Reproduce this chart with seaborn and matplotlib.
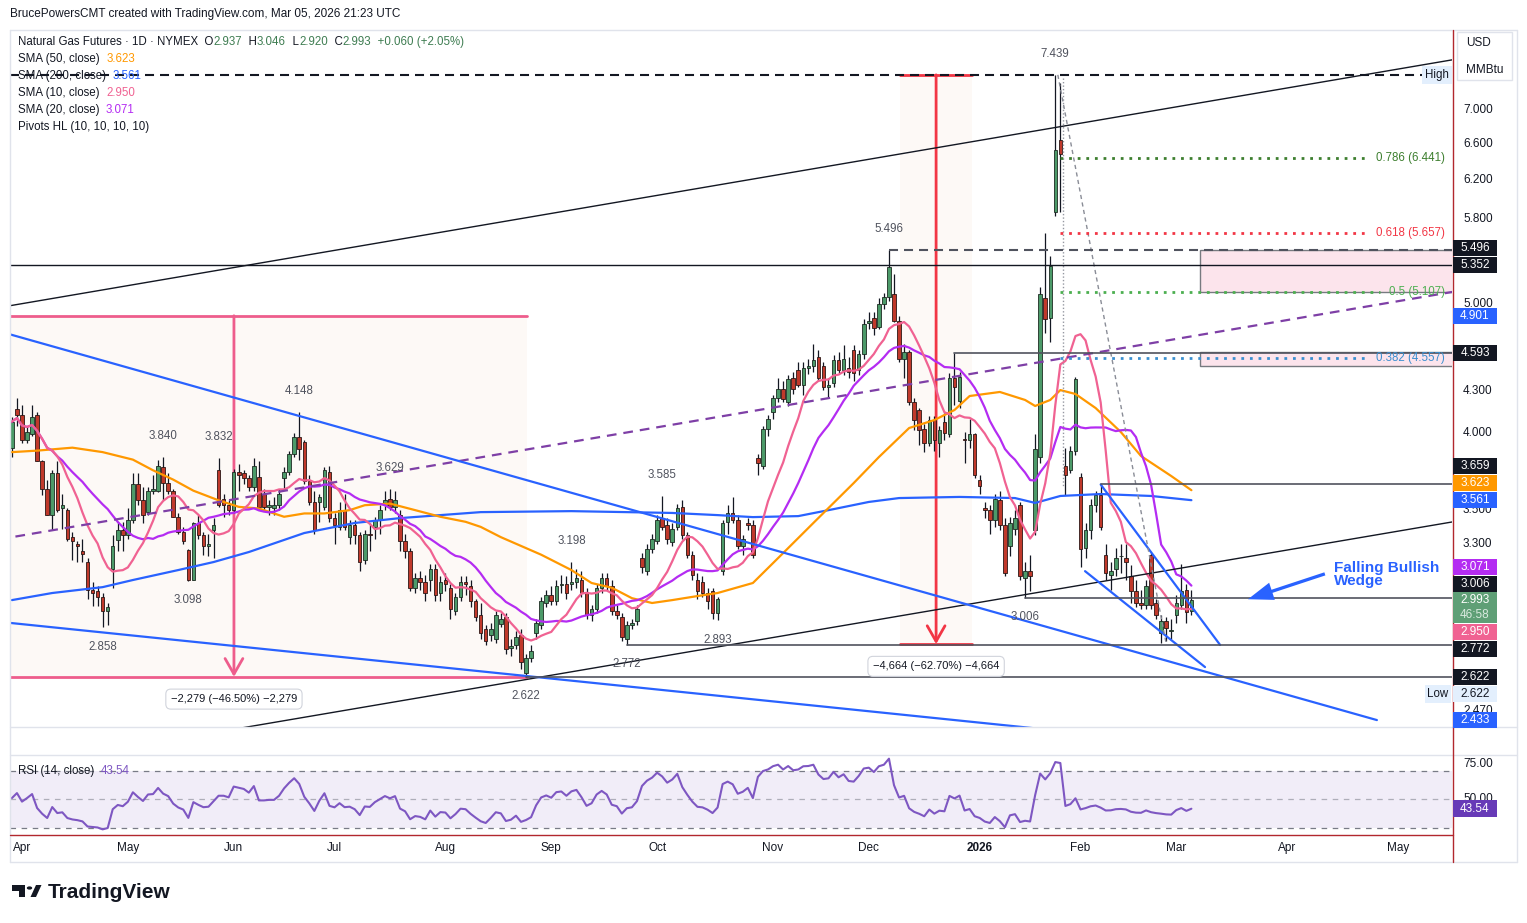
import numpy as np
import pandas as pd
import matplotlib
matplotlib.use("Agg")
import matplotlib.pyplot as plt
from matplotlib.lines import Line2D
from matplotlib.patches import Rectangle, Polygon, Circle, FancyArrowPatch
from matplotlib.transforms import blended_transform_factory
import seaborn as sns

# daily candles of Natural Gas futures (NG1!), 28 Mar 2025 .. 5 Mar 2026
opens = [
    3.90, 4.17, 4.13, 3.95, 3.99, 4.13, 3.81, 3.63, 3.47, 3.73,
    3.51, 3.50, 3.34, 3.30, 3.26, 3.20, 3.05, 3.045, 3.01, 2.94,
    3.16, 3.325, 3.38, 3.35, 3.44, 3.66, 3.56, 3.49, 3.62, 3.62,
    3.77, 3.67, 3.62, 3.46, 3.37, 3.265, 3.10, 3.42, 3.35, 3.29,
    3.38, 3.75, 3.57, 3.53, 3.50, 3.74, 3.73, 3.70, 3.64, 3.71,
    3.60, 3.52, 3.51, 3.53, 3.70, 3.74, 3.86, 3.97, 3.94, 3.68,
    3.55, 3.55, 3.52, 3.74, 3.45, 3.40, 3.50, 3.34, 3.41, 3.35,
    3.21, 3.36, 3.40, 3.44, 3.53, 3.57, 3.52, 3.47, 3.32, 3.26,
    3.06, 3.11, 3.09, 3.10, 3.16, 3.03, 3.10, 3.06, 2.94, 3.01,
    3.09, 3.07, 2.99, 2.92, 2.85, 2.82, 2.80, 2.875, 2.91, 2.755,
    2.77, 2.82, 2.64, 2.71, 2.83, 2.87, 2.98, 3.02, 2.99, 3.075,
    3.08, 3.08, 3.09, 3.10, 3.03, 2.92, 2.95, 3.06, 3.11, 3.07,
    2.94, 2.91, 2.80, 2.87, 2.89, 3.22, 3.15, 3.27, 3.32, 3.45,
    3.41, 3.31, 3.40, 3.52, 3.35, 3.24, 3.10, 3.09, 3.03, 3.04,
    2.93, 3.15, 3.43, 3.48, 3.44, 3.29, 3.42, 3.41, 3.83, 3.78,
    4.03, 4.15, 4.25, 4.32, 4.22, 4.40, 4.46, 4.35, 4.48, 4.49,
    4.56, 4.49, 4.33, 4.36, 4.54, 4.46, 4.48, 4.62, 4.46, 4.59,
    4.84, 4.88, 4.81, 5.00, 5.06, 5.09, 4.86, 4.55, 4.60, 4.22,
    4.16, 4.03, 3.93, 4.09, 3.93, 4.08, 3.99, 4.40, 4.23, 3.96,
    3.95, 3.99, 3.69, 3.51, 3.50, 3.44, 3.56, 3.41, 3.29, 3.39,
    3.53, 3.11, 3.15, 3.38, 3.84, 5.05, 4.88, 5.87, 6.64, 3.78,
    3.75, 3.88, 3.71, 3.28, 3.38, 3.53, 3.59, 3.24, 3.13, 3.16,
    3.23, 3.22, 3.12, 3.04, 2.98, 2.97, 3.24, 2.98, 2.83, 2.89,
    2.84, 2.92, 2.97, 3.05, 2.937,
]
highs = [
    4.11, 4.25, 4.20, 4.05, 4.20, 4.15, 3.82, 3.69, 3.75, 3.81,
    3.60, 3.51, 3.37, 3.32, 3.33, 3.22, 3.09, 3.07, 3.03, 2.98,
    3.35, 3.43, 3.43, 3.51, 3.73, 3.73, 3.64, 3.64, 3.72, 3.82,
    3.84, 3.73, 3.63, 3.48, 3.40, 3.27, 3.43, 3.47, 3.37, 3.36,
    3.45, 3.832, 3.60, 3.56, 3.76, 3.79, 3.75, 3.72, 3.83, 3.81,
    3.63, 3.56, 3.58, 3.63, 3.77, 3.88, 4.00, 4.148, 3.95, 3.72,
    3.62, 3.60, 3.77, 3.78, 3.48, 3.55, 3.60, 3.44, 3.44, 3.37,
    3.38, 3.42, 3.46, 3.53, 3.62, 3.629, 3.62, 3.50, 3.36, 3.28,
    3.14, 3.15, 3.13, 3.19, 3.19, 3.12, 3.14, 3.08, 3.03, 3.12,
    3.12, 3.10, 3.00, 2.98, 2.87, 2.88, 2.94, 2.93, 2.93, 2.80,
    2.84, 2.85, 2.73, 2.77, 2.90, 3.01, 3.05, 3.07, 3.10, 3.13,
    3.12, 3.198, 3.16, 3.15, 3.06, 2.97, 3.08, 3.14, 3.14, 3.10,
    2.97, 2.93, 2.89, 2.90, 2.97, 3.25, 3.30, 3.36, 3.47, 3.585,
    3.45, 3.42, 3.54, 3.56, 3.37, 3.26, 3.14, 3.12, 3.06, 3.06,
    3.01, 3.44, 3.53, 3.58, 3.47, 3.35, 3.45, 3.44, 3.86, 4.05,
    4.13, 4.27, 4.40, 4.38, 4.42, 4.45, 4.52, 4.52, 4.55, 4.67,
    4.62, 4.52, 4.40, 4.58, 4.60, 4.66, 4.56, 4.66, 4.62, 4.87,
    4.93, 4.93, 5.05, 5.10, 5.496, 5.27, 4.90, 4.67, 4.62, 4.25,
    4.18, 4.06, 4.12, 4.12, 4.05, 4.14, 4.44, 4.593, 4.45, 4.01,
    4.10, 4.00, 3.72, 3.55, 3.53, 3.60, 3.62, 3.45, 3.46, 3.50,
    3.55, 3.20, 3.24, 3.99, 5.15, 5.657, 5.44, 7.439, 7.33, 3.90,
    3.91, 4.41, 3.73, 3.42, 3.57, 3.62, 3.659, 3.30, 3.20, 3.28,
    3.30, 3.30, 3.18, 3.10, 3.05, 3.10, 3.25, 3.00, 2.92, 2.91,
    2.90, 3.02, 3.19, 3.08, 3.046,
]
lows = [
    3.84, 4.05, 3.93, 3.93, 3.98, 3.81, 3.59, 3.47, 3.38, 3.49,
    3.39, 3.32, 3.21, 3.20, 3.20, 3.00, 2.966, 2.965, 2.858, 2.87,
    3.06, 3.26, 3.26, 3.33, 3.42, 3.53, 3.42, 3.47, 3.60, 3.61,
    3.56, 3.60, 3.46, 3.36, 3.30, 3.098, 3.10, 3.33, 3.24, 3.23,
    3.22, 3.52, 3.46, 3.47, 3.48, 3.62, 3.66, 3.62, 3.62, 3.50,
    3.50, 3.47, 3.47, 3.50, 3.63, 3.72, 3.84, 3.82, 3.66, 3.53,
    3.36, 3.43, 3.50, 3.43, 3.30, 3.38, 3.38, 3.30, 3.30, 3.15,
    3.19, 3.26, 3.33, 3.36, 3.50, 3.50, 3.48, 3.26, 3.22, 3.04,
    3.03, 3.05, 2.99, 3.04, 2.99, 2.99, 3.04, 2.90, 2.92, 2.99,
    3.02, 2.96, 2.89, 2.80, 2.77, 2.79, 2.78, 2.86, 2.73, 2.72,
    2.75, 2.66, 2.622, 2.69, 2.80, 2.85, 2.96, 2.97, 2.97, 3.03,
    3.00, 3.05, 3.06, 3.01, 2.90, 2.89, 2.93, 3.03, 3.04, 2.92,
    2.90, 2.79, 2.772, 2.85, 2.87, 3.14, 3.13, 3.25, 3.30, 3.38,
    3.30, 3.29, 3.38, 3.33, 3.22, 3.10, 3.00, 3.01, 2.95, 2.90,
    2.893, 3.13, 3.36, 3.42, 3.27, 3.24, 3.38, 3.22, 3.72, 3.76,
    3.98, 4.10, 4.22, 4.22, 4.19, 4.28, 4.33, 4.27, 4.43, 4.45,
    4.38, 4.31, 4.26, 4.33, 4.44, 4.42, 4.40, 4.38, 4.42, 4.55,
    4.79, 4.74, 4.79, 4.96, 5.03, 4.85, 4.52, 4.40, 4.20, 4.02,
    3.92, 3.87, 3.91, 3.88, 3.84, 3.95, 3.97, 4.20, 4.18, 3.80,
    3.90, 3.70, 3.60, 3.45, 3.36, 3.40, 3.38, 3.12, 3.23, 3.35,
    3.10, 3.006, 3.04, 3.35, 3.80, 4.76, 4.68, 5.83, 5.87, 3.59,
    3.73, 3.85, 3.17, 3.22, 3.33, 3.49, 3.38, 3.10, 3.05, 3.12,
    3.14, 3.10, 2.98, 2.96, 2.95, 2.95, 2.95, 2.90, 2.78, 2.79,
    2.80, 2.88, 2.95, 2.88, 2.920,
]
closes = [
    4.08, 4.13, 3.95, 4.01, 4.11, 3.81, 3.63, 3.47, 3.73, 3.50,
    3.53, 3.33, 3.32, 3.29, 3.245, 3.05, 3.03, 3.01, 2.94, 2.96,
    3.29, 3.38, 3.35, 3.44, 3.66, 3.56, 3.47, 3.62, 3.63, 3.78,
    3.67, 3.62, 3.46, 3.37, 3.32, 3.10, 3.42, 3.35, 3.29, 3.30,
    3.41, 3.53, 3.53, 3.50, 3.74, 3.72, 3.70, 3.64, 3.78, 3.52,
    3.52, 3.53, 3.53, 3.60, 3.74, 3.86, 3.97, 3.89, 3.68, 3.55,
    3.38, 3.58, 3.75, 3.45, 3.41, 3.50, 3.40, 3.41, 3.35, 3.20,
    3.36, 3.35, 3.44, 3.50, 3.56, 3.52, 3.56, 3.32, 3.26, 3.06,
    3.11, 3.09, 3.03, 3.16, 3.02, 3.09, 3.08, 2.95, 3.01, 3.09,
    3.08, 2.99, 2.91, 2.83, 2.79, 2.85, 2.92, 2.90, 2.75, 2.765,
    2.81, 2.69, 2.71, 2.74, 2.88, 2.99, 3.02, 2.99, 3.07, 3.08,
    3.03, 3.09, 3.11, 3.03, 2.92, 2.95, 3.06, 3.11, 3.07, 2.94,
    2.92, 2.81, 2.87, 2.88, 2.95, 3.17, 3.27, 3.33, 3.44, 3.40,
    3.33, 3.39, 3.51, 3.35, 3.24, 3.13, 3.04, 3.03, 2.99, 2.93,
    3.00, 3.42, 3.48, 3.44, 3.29, 3.33, 3.41, 3.24, 3.80, 4.03,
    4.10, 4.25, 4.32, 4.24, 4.39, 4.32, 4.35, 4.48, 4.49, 4.54,
    4.40, 4.33, 4.35, 4.54, 4.46, 4.55, 4.45, 4.44, 4.59, 4.83,
    4.86, 4.80, 5.00, 5.06, 5.33, 4.86, 4.55, 4.60, 4.22, 4.09,
    4.02, 3.93, 4.09, 3.95, 4.02, 4.00, 4.40, 4.33, 4.41, 3.95,
    3.99, 3.72, 3.65, 3.50, 3.44, 3.57, 3.41, 3.14, 3.42, 3.45,
    3.12, 3.15, 3.12, 3.89, 5.09, 4.87, 5.34, 6.53, 6.49, 3.72,
    3.88, 4.39, 3.27, 3.38, 3.53, 3.59, 3.40, 3.14, 3.15, 3.22,
    3.235, 3.20, 3.04, 2.98, 2.97, 3.07, 2.97, 2.92, 2.89, 2.855,
    2.845, 2.98, 3.04, 2.933, 2.993,
]

# 50 and 200 day SMA (bar number, value)
sma50_bar = [0, 5, 12, 18, 24, 28, 32, 36, 41, 45, 49, 54, 58, 62, 67, 70, 75, 80, 85, 90,
             93, 97, 105, 111, 115, 119, 123, 127, 131, 136, 140, 147, 153, 159, 167, 172,
             178, 183, 187, 190, 196, 201, 203, 206, 208, 211, 215, 220, 224, 230, 234]
sma50_val = [3.87, 3.88, 3.90, 3.87, 3.82, 3.75, 3.69, 3.62, 3.56, 3.52, 3.51, 3.46, 3.48,
             3.48, 3.50, 3.53, 3.54, 3.50, 3.46, 3.43, 3.40, 3.34, 3.24, 3.155, 3.085, 3.06,
             3.005, 2.98, 2.995, 3.016, 3.032, 3.085, 3.249, 3.423, 3.668, 3.837, 4.035,
             4.091, 4.163, 4.265, 4.295, 4.236, 4.192, 4.236, 4.309, 4.28, 4.177, 4.007,
             3.844, 3.713, 3.623]
sma200_bar = [0, 8, 18, 24, 33, 40, 47, 58, 68, 77, 93, 111, 131, 140, 147, 156, 163, 170,
              176, 188, 199, 203, 208, 216, 226, 234]
sma200_val = [2.995, 3.032, 3.063, 3.101, 3.155, 3.199, 3.255, 3.364, 3.423, 3.452, 3.488,
              3.494, 3.483, 3.47, 3.458, 3.464, 3.506, 3.550, 3.574, 3.581, 3.574, 3.544,
              3.587, 3.599, 3.587, 3.561]
# RSI of the first 14 sessions, before its own window is full
rsi_first = [51, 54.5, 48.5, 51, 53.8, 44, 40, 37, 44.7, 40.5, 41, 37, 36, 35.5]

holidays = ["2025-04-18", "2025-05-26", "2025-06-19", "2025-07-04", "2025-09-01",
            "2025-11-27", "2025-12-25", "2026-01-01", "2026-01-19", "2026-02-16"]

# pivots (bar number) labelled on the chart
pivot_high_bars = [30, 41, 57, 75, 111, 129, 174, 207]
pivot_low_bars = [18, 35, 102, 122, 140, 201]

# fibonacci levels
fib_ratio = ["0.786", "0.618", "0.5", "0.382"]
fib_price = [6.441, 5.657, 5.107, 4.557]
fib_color = ["#3d7f2f", "#f23645", "#4caf50", "#3a8fd0"]

# right scale tags
tag_val = [5.496, 5.352, 4.901, 4.593, 3.659, 3.623, 3.561, 3.071, 3.006, 2.993, 2.950,
           2.772, 2.622, 2.622, 2.433]
tag_col = ["#131722", "#131722", "#2962ff", "#131722", "#131722", "#ff9800", "#2962ff",
           "#b42cf2", "#131722", "#5f9f76", "#f06292", "#131722", "#131722", "#e3effd",
           "#2962ff"]
price_ticks = [7.0, 6.6, 6.2, 5.8, 5.0, 4.3, 4.0, 3.5, 3.3, 2.47]

# ---------------------------------------------------------------
sns.set_theme(style="white")
plt.rcParams["font.family"] = ["Liberation Sans", "DejaVu Sans"]
plt.rcParams["lines.scale_dashes"] = False

days = pd.bdate_range("2025-03-28", "2026-03-05")
days = days[~days.isin(pd.to_datetime(holidays))]
df = pd.DataFrame({"date": days, "open": opens, "high": highs, "low": lows, "close": closes})
df["n"] = np.arange(len(df))
df["sma10"] = df["close"].rolling(10, min_periods=1).mean()
df["sma20"] = df["close"].rolling(20, min_periods=1).mean()

# RSI(14), Wilder smoothing, started from the value read at the 14th session
c = df["close"].to_numpy()
d = np.diff(c)
gain, loss = np.clip(d, 0, None), np.clip(-d, 0, None)
rsi = np.full(len(c), np.nan)
rsi[:14] = rsi_first
span = np.abs(d[:13]).mean()
ag, al = span * rsi_first[-1] / 100, span * (1 - rsi_first[-1] / 100)
for k in range(13, len(d)):
    ag = (ag * 13 + gain[k]) / 14
    al = (al * 13 + loss[k]) / 14
    rsi[k + 1] = 100 - 100 / (1 + ag / al)
df["rsi"] = rsi

W, H = 1527, 923
def fx(p): return p / W
def fy(p): return 1 - p / H

fig = plt.figure(figsize=(W / 100, H / 100), dpi=100)
fig.patch.set_facecolor("white")
ax = fig.add_axes([fx(10), fy(727), (1452 - 10) / W, (727 - 30) / H])
ax_r = fig.add_axes([fx(10), fy(835), (1452 - 10) / W, (835 - 755) / H])
XMIN, XMAX = -0.38, 285.7
ax.set_yscale("log")
ax.set_xlim(XMIN, XMAX)
ax.set_ylim(2.404, 8.04)
ax.axis("off")
ax_r.set_xlim(XMIN, XMAX)
ax_r.set_ylim(25.1, 81.2)
ax_r.axis("off")

INK = "#131722"
FS = 8.3

# --- measure boxes (drawn first, under everything) ---
def measure(n0, n1, top, bot, col, text):
    mid = (n0 + n1) / 2
    ax.fill_between([n0, n1], bot, top, color="#f7e6d8", alpha=0.22, lw=0, zorder=1)
    ax.plot([n0, n1], [top, top], color=col, lw=2, zorder=2)
    ax.plot([n0, n1], [bot, bot], color=col, lw=2, zorder=2)
    ax.annotate("", xy=(mid, bot), xytext=(mid, top),
                arrowprops=dict(arrowstyle="->,head_length=0.7,head_width=0.4", color=col,
                                lw=2, shrinkA=0, shrinkB=0, mutation_scale=16), zorder=2)
    ax.annotate(text, xy=(mid, bot), xytext=(0, -16), textcoords="offset points",
                ha="center", va="center", fontsize=8, color=INK, zorder=9,
                bbox=dict(boxstyle="round,pad=0.45", fc="white", ec="#d1d4dc", lw=0.8))

measure(-14.1, 102.2, 4.901, 2.622, "#ee5d8c", "\u22122,279 (\u221246.50%) \u22122,279")
measure(176.2, 190.5, 7.439, 2.775, "#f23645", "\u22124,664 (\u221262.70%) \u22124,664")

# --- pink zones ---
for top, bot in [(5.496, 5.107), (4.60, 4.49)]:
    ax.add_patch(Rectangle((235.8, bot), 60, top - bot, fc="#fce4ec", ec="#777a80", lw=1,
                           zorder=1))

# --- trend lines ---
def line(p0, p1, extend=False, **kw):
    (n0, v0), (n1, v1) = p0, p1
    if extend:
        s = (np.log(v1) - np.log(v0)) / (n1 - n0)
        xs = np.array([XMIN - 5, XMAX + 5])
        ys = np.exp(np.log(v0) + s * (xs - n0))
    else:
        xs, ys = [n0, n1], [v0, v1]
    ax.plot(xs, ys, zorder=6, **kw)

line((0, 4.99), (280, 7.57), True, color=INK, lw=1)
line((102, 2.61), (280, 3.40), True, color=INK, lw=1)
line((0, 3.34), (285.7, 5.107), True, color="#7e3fa6", lw=1.6, dashes=(7, 5))
line((-5, 4.80), (270.8, 2.433), False, color="#2962ff", lw=1.6)
line((0, 2.878), (200.4, 2.404), True, color="#2962ff", lw=1.6)
line((216, 3.659), (239.7, 2.771), False, color="#2962ff", lw=1.6)
line((212.9, 3.149), (236.7, 2.667), False, color="#2962ff", lw=1.6)
line((207.5, 7.439), (229, 2.777), False, color="#8a8d97", lw=1, dashes=(3, 2.5))
line((208.5, 7.40), (208.5, 3.65), False, color="#9598a1", lw=1, dashes=(1, 1.5))

# horizontal levels
ax.plot([XMIN, XMAX], [7.439, 7.439], color=INK, lw=1.5, dashes=(6.5, 4.3), zorder=6)
ax.plot([XMIN, XMAX], [5.352, 5.352], color=INK, lw=1, zorder=6)
ax.plot([174, XMAX], [5.496, 5.496], color="#50535e", lw=1.5, dashes=(6.5, 4.3), zorder=6)
for b, v in [(187, 4.593), (216, 3.659), (201, 3.006), (122, 2.772), (102, 2.622)]:
    ax.plot([b, XMAX], [v, v], color="#50535e", lw=1.2, zorder=6)

# fibonacci
fib_end = [269.1, 269.1, 271.4, 269.1]
for r, p, col, e in zip(fib_ratio, fib_price, fib_color, fib_end):
    ax.plot([208, e], [p, p], color=col, lw=2, dashes=(2, 4.2), zorder=6)
    ax.text(284.3, p, f"{r} ({p:.3f})", ha="right", va="center", fontsize=FS, color=col,
            zorder=7)

# --- candles ---
up = df["close"] >= df["open"]
body = df["close"] - df["open"]
ax.vlines(df["n"], df["low"], df["high"], color=INK, lw=0.9, zorder=3)
ax.bar(df["n"][up], body[up], bottom=df["open"][up], width=0.7, color="#4c9a69",
       edgecolor="#1d2b22", lw=0.6, zorder=4)
ax.bar(df["n"][~up], body[~up], bottom=df["open"][~up], width=0.7, color="#c0392b",
       edgecolor="#2b1716", lw=0.6, zorder=4)

# --- moving averages ---
sns.lineplot(x=sma200_bar, y=sma200_val, ax=ax, color="#2962ff", lw=1.6, zorder=5)
sns.lineplot(x=sma50_bar, y=sma50_val, ax=ax, color="#ff9800", lw=1.6, zorder=5)
sns.lineplot(x=df["n"], y=df["sma20"], ax=ax, color="#b42cf2", lw=1.6, zorder=5)
sns.lineplot(x=df["n"], y=df["sma10"], ax=ax, color="#f06292", lw=1.6, zorder=5)

# pivot labels
for b in pivot_high_bars:
    ax.annotate(f"{highs[b]:.3f}", xy=(b, highs[b]), xytext=(0, 15), textcoords="offset points",
                ha="center", va="center", fontsize=FS, color="#50535e", zorder=8)
for b in pivot_low_bars:
    ax.annotate(f"{lows[b]:.3f}", xy=(b, lows[b]), xytext=(0, -14), textcoords="offset points",
                ha="center", va="center", fontsize=FS, color="#50535e", zorder=8)

# falling wedge note
ax.text(262.3, 3.13, "Falling Bullish\nWedge", ha="left", va="center", fontsize=11,
        fontweight="bold", color="#2962ff", linespacing=0.95, zorder=8)
ax.add_patch(FancyArrowPatch((261.0, 3.139), (244.7, 2.995),
                             arrowstyle="simple,head_length=1.4,head_width=1.0,tail_width=0.18",
                             mutation_scale=13, color="#2962ff", lw=0, zorder=8))

# --- RSI pane ---
ax_r.fill_between([XMIN, XMAX], 30, 70, color="#7e57c2", alpha=0.1, lw=0)
for v, a in [(70, 1), (50, 0.55), (30, 1)]:
    ax_r.plot([XMIN, XMAX], [v, v], color="#787b86", lw=0.9, dashes=(4, 4), alpha=a)
sns.lineplot(x=df["n"], y=df["rsi"], ax=ax_r, color="#7e57c2", lw=1.5)

# month labels
future = pd.bdate_range("2026-03-06", "2026-06-30")
cal = days.append(future)
bt = blended_transform_factory(ax_r.transData, fig.transFigure)
for k in range(1, len(cal)):
    if cal[k].month != cal[k - 1].month and k < XMAX:
        jan = cal[k].month == 1
        ax_r.text(k, fy(848), str(cal[k].year) if jan else cal[k].strftime("%b"),
                  transform=bt, ha="center", va="center", fontsize=8.5, color=INK,
                  fontweight="bold" if jan else "normal", clip_on=False)

# --- right price scale ---
pt = blended_transform_factory(fig.transFigure, ax.transData)
for p in price_ticks:
    ax.text(fx(1463), p, f"{p:.3f}", transform=pt, ha="left", va="center", fontsize=8.5,
            color=INK, clip_on=False)
rt = blended_transform_factory(fig.transFigure, ax_r.transData)
for v in [75, 50]:
    ax_r.text(fx(1463), v, f"{v:.2f}", transform=rt, ha="left", va="center", fontsize=8.5,
              color=INK, clip_on=False)

def ypix(price):
    return H - ax.transData.transform((0, price))[1]

true_y = [ypix(v) for v in tag_val]
last = tag_val.index(2.993)
pos = list(true_y)
top = true_y[last] - 8
for k in range(last - 1, -1, -1):
    pos[k] = min(true_y[k], top - 8.5)
    top = pos[k] - 8.5
bot = true_y[last] + 23
for k in range(last + 1, len(tag_val)):
    pos[k] = max(true_y[k], bot + 8.5)
    bot = pos[k] + 8.5

def tag(yc, text, fc, tc="white", h=16.5):
    fig.add_artist(Rectangle((fx(1453), fy(yc + h / 2)), 44 / W, h / H, fc=fc, ec="none",
                             transform=fig.transFigure, zorder=4))
    fig.text(fx(1475), fy(yc), text, ha="center", va="center", fontsize=8.5, color=tc,
             zorder=5)

for k, (v, col) in enumerate(zip(tag_val, tag_col)):
    if k == last:
        fig.add_artist(Rectangle((fx(1453), fy(pos[k] + 23)), 44 / W, 31 / H, fc=col,
                                 ec="none", transform=fig.transFigure, zorder=4))
        fig.text(fx(1475), fy(pos[k]), f"{v:.3f}", ha="center", va="center", fontsize=8.5,
                 color="white", zorder=5)
        fig.text(fx(1475), fy(pos[k] + 15), "46:58", ha="center", va="center", fontsize=8.5,
                 color="#d9eadf", zorder=5)
    elif col == "#e3effd":
        tag(pos[k], f"{v:.3f}", col, INK)
        fig.text(fx(1438), fy(pos[k]), "Low", ha="center", va="center", fontsize=8.3,
                 color=INK, zorder=5,
                 bbox=dict(boxstyle="square,pad=0.25", fc=col, ec="none"))
    else:
        tag(pos[k], f"{v:.3f}", col)

rsi_last = df["rsi"].iloc[-1]
ry = H - ax_r.transData.transform((0, rsi_last))[1]
tag(ry, f"{rsi_last:.2f}", "#673ab7")

fig.text(fx(1437), fy(ypix(7.439)), "High", ha="center", va="center", fontsize=8.3,
         color=INK, zorder=5, bbox=dict(boxstyle="square,pad=0.25", fc="#e3effd", ec="none"))

# unit box
fig.add_artist(Rectangle((fx(1457), fy(80)), 55 / W, 48 / H, fc="white", ec="#e0e3eb",
                         lw=1, transform=fig.transFigure, zorder=4))
fig.text(fx(1466), fy(43), "USD", ha="left", va="center", fontsize=8.5, color=INK, zorder=5)
fig.text(fx(1466), fy(70), "MMBtu", ha="left", va="center", fontsize=8.5, color=INK, zorder=5)

# --- frame and separators ---
def fline(x0, y0, x1, y1, col, lw=1):
    fig.add_artist(Line2D([fx(x0), fx(x1)], [fy(y0), fy(y1)], color=col, lw=lw,
                          transform=fig.transFigure, zorder=3))

fline(10, 30, 1517, 30, "#e0e3eb")
fline(10, 862, 1517, 862, "#e0e3eb")
fline(10, 30, 10, 862, "#e0e3eb")
fline(1517, 30, 1517, 862, "#e0e3eb")
fline(10, 727, 1517, 727, "#e0e3eb")
fline(10, 755, 1517, 755, "#e0e3eb")
fline(1452.5, 30, 1452.5, 862, "#b2282e")
fline(10, 835, 1452.5, 835, "#b2282e")

# --- texts on top ---
fig.text(fx(10), fy(14), "BrucePowersCMT created with TradingView.com, Mar 05, 2026 21:23 UTC",
         ha="left", va="center", fontsize=8.5, color=INK)

renderer = fig.canvas.get_renderer()
def row(y, pieces, x=18):
    for s, col in pieces:
        t = fig.text(fx(x), fy(y), s, ha="left", va="center", fontsize=FS, color=col, zorder=6)
        x += t.get_window_extent(renderer=renderer).width

GRN = "#3f7d52"
chg = closes[-1] - closes[-2]
row(42, [("Natural Gas Futures \u00b7 1D \u00b7 NYMEX", INK),
         ("  O", INK), (f"{opens[-1]:.3f}", GRN), ("  H", INK), (f"{highs[-1]:.3f}", GRN),
         ("  L", INK), (f"{lows[-1]:.3f}", GRN), ("  C", INK), (f"{closes[-1]:.3f}", GRN),
         (f"  {chg:+.3f} ({chg / closes[-2] * 100:+.2f}%)", GRN)])
row(59, [("SMA (50, close)  ", INK), (f"{sma50_val[-1]:.3f}", "#ff9800")])
row(76, [("SMA (200, close)  ", INK), (f"{sma200_val[-1]:.3f}", "#2962ff")])
row(93, [("SMA (10, close)  ", INK), (f"{df['sma10'].iloc[-1]:.3f}", "#f06292")])
row(110, [("SMA (20, close)  ", INK), (f"{df['sma20'].iloc[-1]:.3f}", "#b42cf2")])
row(127, [("Pivots HL (10, 10, 10, 10)", INK)])
row(771, [("RSI (14, close)  ", INK), (f"{rsi_last:.2f}", "#7e57c2")])

# TradingView logo
fig.add_artist(Polygon([(fx(12), fy(885)), (fx(25), fy(885)), (fx(25), fy(897)),
                        (fx(18.5), fy(897)), (fx(18.5), fy(890.5)), (fx(12), fy(890.5))],
                       closed=True, fc=INK, ec="none", transform=fig.transFigure))
fig.add_artist(Circle((fx(29.5), fy(888)), 2.7 / W, fc=INK, ec="none",
                      transform=fig.transFigure))
fig.add_artist(Polygon([(fx(30.5), fy(897)), (fx(36), fy(897)), (fx(41.5), fy(885)),
                        (fx(36), fy(885))], closed=True, fc=INK, ec="none",
                       transform=fig.transFigure))
fig.text(fx(48), fy(892), "TradingView", ha="left", va="center", fontsize=15,
         fontweight="bold", color=INK)

fig.savefig("out.png", dpi=100)
